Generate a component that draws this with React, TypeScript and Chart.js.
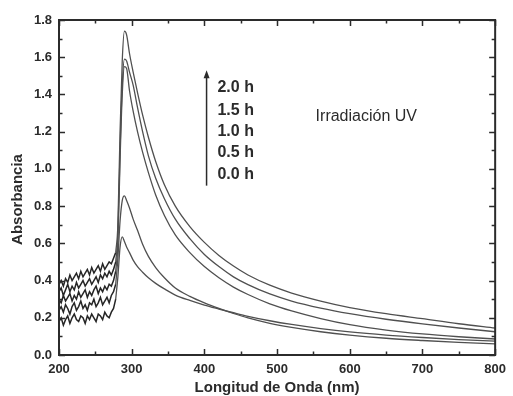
import React, { useEffect, useRef } from "react";
import { Chart, registerables } from "chart.js";

Chart.register(...registerables);

// Wavelength grid (nm)
const wavelengths = [
  200, 203, 206, 209, 212, 215, 218, 221, 224, 227, 230, 233, 236, 239, 242, 245, 248, 251, 254, 257, 260, 263, 266, 269, 272, 275,
  278, 281, 284, 287, 290, 293, 297, 302, 308, 315, 323, 333, 345, 360, 380, 400, 420, 440, 460, 490, 520, 560, 600, 650, 700, 750, 800,
];
// index in wavelengths where the noisy region ends (278 nm)
const noiseEndIndex = 26;

const abs00h = [
  0.18, 0.20, 0.16, 0.19, 0.21, 0.17, 0.20, 0.22, 0.19, 0.18, 0.21, 0.20, 0.17, 0.21, 0.19, 0.22, 0.20, 0.18, 0.22, 0.21, 0.19, 0.23, 0.21, 0.20, 0.23, 0.25,
  0.30, 0.42, 0.58, 0.635, 0.61, 0.58, 0.55, 0.51, 0.475, 0.445, 0.415, 0.385, 0.355, 0.322, 0.293, 0.268, 0.247, 0.227, 0.208, 0.184, 0.164, 0.142, 0.124, 0.107, 0.094, 0.083, 0.075,
];
const abs05h = [
  0.24, 0.26, 0.23, 0.27, 0.25, 0.22, 0.26, 0.28, 0.24, 0.26, 0.29, 0.25, 0.27, 0.24, 0.28, 0.27, 0.30, 0.26, 0.28, 0.31, 0.27, 0.29, 0.31, 0.28, 0.32, 0.34,
  0.38, 0.52, 0.72, 0.83, 0.855, 0.83, 0.79, 0.73, 0.67, 0.595, 0.53, 0.47, 0.415, 0.36, 0.315, 0.28, 0.25, 0.223, 0.199, 0.17, 0.148, 0.125, 0.107, 0.09, 0.078, 0.068, 0.06,
];
const abs10h = [
  0.30, 0.28, 0.32, 0.29, 0.31, 0.33, 0.29, 0.32, 0.30, 0.34, 0.31, 0.33, 0.35, 0.31, 0.34, 0.32, 0.35, 0.37, 0.33, 0.36, 0.34, 0.37, 0.35, 0.38, 0.37, 0.40,
  0.45, 0.60, 1.05, 1.40, 1.55, 1.54, 1.42, 1.31, 1.20, 1.09, 0.98, 0.86, 0.75, 0.645, 0.55, 0.475, 0.415, 0.365, 0.325, 0.275, 0.237, 0.196, 0.163, 0.134, 0.113, 0.098, 0.086,
];
const abs15h = [
  0.34, 0.36, 0.32, 0.35, 0.38, 0.34, 0.37, 0.35, 0.39, 0.36, 0.38, 0.40, 0.37, 0.39, 0.41, 0.38, 0.40, 0.42, 0.39, 0.43, 0.41, 0.44, 0.42, 0.45, 0.43, 0.46,
  0.50, 0.65, 1.10, 1.45, 1.59, 1.58, 1.52, 1.45, 1.33, 1.20, 1.07, 0.95, 0.84, 0.73, 0.625, 0.54, 0.475, 0.42, 0.378, 0.328, 0.29, 0.252, 0.222, 0.192, 0.167, 0.145, 0.125,
];
const abs20h = [
  0.38, 0.40, 0.37, 0.41, 0.39, 0.43, 0.40, 0.42, 0.44, 0.41, 0.45, 0.42, 0.44, 0.46, 0.43, 0.47, 0.44, 0.46, 0.48, 0.45, 0.49, 0.46, 0.48, 0.50, 0.49, 0.52,
  0.55, 0.70, 1.20, 1.58, 1.74, 1.72, 1.62, 1.52, 1.41, 1.29, 1.17, 1.04, 0.915, 0.80, 0.69, 0.605, 0.535, 0.478, 0.43, 0.375, 0.333, 0.29, 0.255, 0.222, 0.195, 0.168, 0.145,
];

const seriesLabels = ["0.0 h", "0.5 h", "1.0 h", "1.5 h", "2.0 h"];
const seriesValues = [abs00h, abs05h, abs10h, abs15h, abs20h];

// Annotation text (legend listed top-to-bottom) and its placement in data units
const legendLines = ["2.0 h", "1.5 h", "1.0 h", "0.5 h", "0.0 h"];
const legendX = 418;
const legendYs = [1.435, 1.315, 1.2, 1.085, 0.97];
const arrowX = 403;
const arrowFrom = 0.91;
const arrowTo = 1.53;
const noteText = "Irradiación UV";
const noteX = 553;
const noteY = 1.28;

const xMin = 200, xMax = 800, xMajor = 100, xMinor = 50;
const yMin = 0, yMax = 1.8, yMajor = 0.2, yMinor = 0.1;

const xTitle = "Longitud de Onda (nm)";
const yTitle = "Absorbancia";

const INK = "#2b2b2b";
const LINE = "#505050";
const NOISE = "#262626";

const framePlugin = {
  id: "frame",
  afterDraw(chart: any) {
    const { ctx, chartArea: a, scales } = chart;
    const x = scales.x, y = scales.y;
    ctx.save();
    ctx.strokeStyle = INK;
    ctx.lineWidth = 1.5;
    const nx = Math.round((xMax - xMin) / xMinor);
    for (let i = 0; i <= nx; i++) {
      const v = xMin + i * xMinor;
      const px = Math.round(x.getPixelForValue(v)) + 0.5;
      const L = i % 2 === 0 ? 6 : 3.5;
      ctx.beginPath();
      ctx.moveTo(px, a.bottom); ctx.lineTo(px, a.bottom - L);
      ctx.moveTo(px, a.top); ctx.lineTo(px, a.top + L);
      ctx.stroke();
    }
    const ny = Math.round((yMax - yMin) / yMinor);
    for (let i = 0; i <= ny; i++) {
      const v = yMin + i * yMinor;
      const py = Math.round(y.getPixelForValue(v)) + 0.5;
      const L = i % 2 === 0 ? 6 : 3.5;
      ctx.beginPath();
      ctx.moveTo(a.left, py); ctx.lineTo(a.left + L, py);
      ctx.moveTo(a.right, py); ctx.lineTo(a.right - L, py);
      ctx.stroke();
    }
    ctx.lineWidth = 2;
    ctx.strokeRect(a.left, a.top, a.right - a.left, a.bottom - a.top);

    const ax = x.getPixelForValue(arrowX);
    const ay0 = y.getPixelForValue(arrowFrom);
    const ay1 = y.getPixelForValue(arrowTo);
    ctx.lineWidth = 1.5;
    ctx.beginPath();
    ctx.moveTo(ax, ay0); ctx.lineTo(ax, ay1 + 6);
    ctx.stroke();
    ctx.fillStyle = INK;
    ctx.beginPath();
    ctx.moveTo(ax, ay1); ctx.lineTo(ax - 3, ay1 + 8); ctx.lineTo(ax + 3, ay1 + 8); ctx.closePath();
    ctx.fill();

    ctx.fillStyle = INK;
    ctx.textBaseline = "middle";
    ctx.textAlign = "left";
    ctx.font = "bold 16px 'Liberation Sans', Arial, sans-serif";
    legendLines.forEach((t, i) => {
      ctx.fillText(t, x.getPixelForValue(legendX), y.getPixelForValue(legendYs[i]));
    });
    ctx.font = "16px 'Liberation Sans', Arial, sans-serif";
    ctx.fillText(noteText, x.getPixelForValue(noteX), y.getPixelForValue(noteY));

    ctx.font = "bold 15px 'Liberation Sans', Arial, sans-serif";
    ctx.textAlign = "center";
    ctx.fillText(xTitle, (a.left + a.right) / 2, 388);
    ctx.save();
    ctx.translate(18, (a.top + a.bottom) / 2 + 12);
    ctx.rotate(-Math.PI / 2);
    ctx.fillText(yTitle, 0, 0);
    ctx.restore();
    ctx.restore();
  },
};

export default function App() {
  const ref = useRef<HTMLCanvasElement | null>(null);
  useEffect(() => {
    document.body.style.margin = "0";
    document.body.style.background = "#ffffff";
    const canvas = ref.current!;
    const datasets: any[] = [];
    seriesValues.forEach((vals, i) => {
      const pts = wavelengths.map((w, j) => ({ x: w, y: vals[j] }));
      datasets.push({
        label: seriesLabels[i] + " (baseline)",
        data: pts.slice(0, noiseEndIndex + 1),
        borderColor: NOISE,
        borderWidth: 1.5,
        pointRadius: 0,
        fill: false,
        tension: 0,
      });
      datasets.push({
        label: seriesLabels[i],
        data: pts.slice(noiseEndIndex),
        borderColor: LINE,
        borderWidth: 1.3,
        pointRadius: 0,
        fill: false,
        cubicInterpolationMode: "monotone",
      });
    });
    const chart = new Chart(canvas, {
      type: "line",
      data: { datasets },
      options: {
        animation: false,
        responsive: false,
        layout: { padding: { left: 0, right: 11, top: 20, bottom: 0 } },
        plugins: { legend: { display: false }, tooltip: { enabled: false } },
        scales: {
          x: {
            type: "linear",
            min: xMin,
            max: xMax,
            afterFit: (s: any) => { s.height = 41; },
            afterBuildTicks: (s: any) => {
              const t = [];
              for (let v = xMin; v <= xMax; v += xMajor) t.push({ value: v });
              s.ticks = t;
            },
            grid: { display: false, drawTicks: false },
            border: { display: false },
            ticks: {
              color: INK,
              padding: 7,
              font: { family: "'Liberation Sans', Arial, sans-serif", size: 13, weight: "bold" },
              callback: (v: any) => String(v),
            },
          },
          y: {
            type: "linear",
            min: yMin,
            max: yMax,
            afterFit: (s: any) => { s.width = 59; },
            afterBuildTicks: (s: any) => {
              const t = [];
              const n = Math.round((yMax - yMin) / yMajor);
              for (let i = 0; i <= n; i++) t.push({ value: +(yMin + i * yMajor).toFixed(2) });
              s.ticks = t;
            },
            grid: { display: false, drawTicks: false },
            border: { display: false },
            ticks: {
              color: INK,
              padding: 7,
              font: { family: "'Liberation Sans', Arial, sans-serif", size: 13, weight: "bold" },
              callback: (v: any) => Number(v).toFixed(1),
            },
          },
        },
      },
      plugins: [framePlugin],
    });
    return () => chart.destroy();
  }, []);
  return <canvas ref={ref} width={513} height={396} style={{ display: "block" }} />;
}
